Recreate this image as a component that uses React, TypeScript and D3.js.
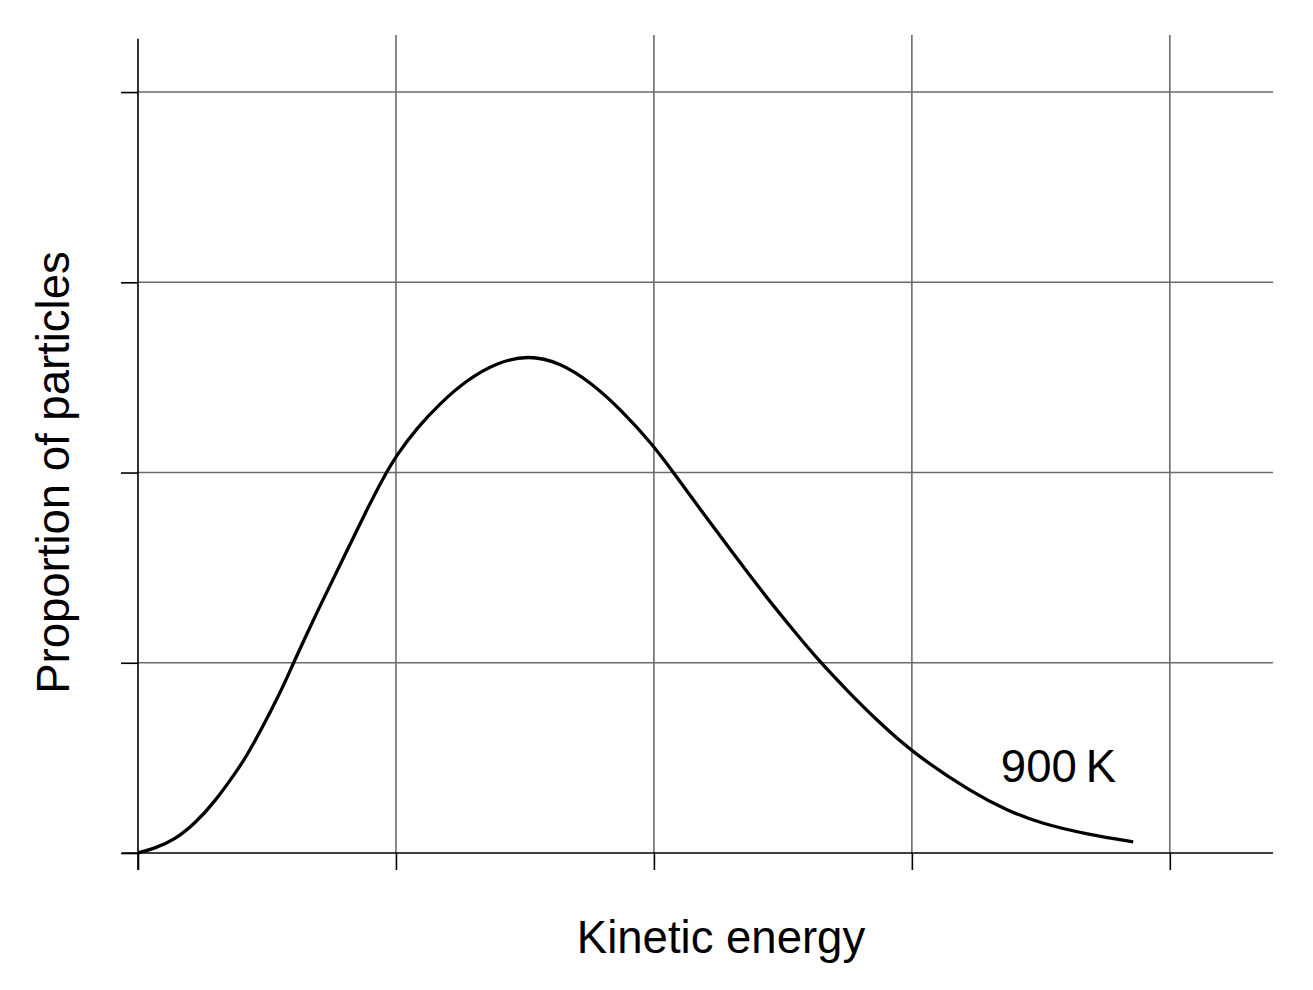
import * as d3 from "d3";
import { useEffect, useRef } from "react";

// kinetic energy (grid units) / proportion of particles (grid units)
const energy = [0, 0.066, 0.143, 0.221, 0.298, 0.376, 0.421, 0.486, 0.538, 0.576, 0.602, 0.66, 0.705, 0.796, 0.886, 0.957, 1.003, 1.08, 1.171, 1.274, 1.39, 1.513, 1.636, 1.752, 1.868, 1.997, 2.081, 2.191, 2.307, 2.424, 2.54, 2.643, 2.747, 2.863, 3.005, 3.238, 3.367, 3.496, 3.69, 3.858];
const proportion = [0, 0.025, 0.07, 0.155, 0.27, 0.417, 0.509, 0.67, 0.808, 0.916, 0.997, 1.167, 1.297, 1.549, 1.803, 1.987, 2.092, 2.232, 2.364, 2.486, 2.578, 2.618, 2.578, 2.477, 2.337, 2.145, 1.99, 1.786, 1.575, 1.365, 1.172, 1.005, 0.857, 0.699, 0.524, 0.314, 0.226, 0.156, 0.095, 0.059];
const xTicks = [0, 1, 2, 3, 4];
const yTicks = [0, 1, 2, 3, 4];
const seriesLabel = "900\u2009K";
const xTitle = "Kinetic energy";
const yTitle = "Proportion of particles";

const W = 1313;
const H = 990;
const FONT = "'Liberation Sans', Arial, sans-serif";
const FONT_SIZE = "45.5px";

const App = () => {
  const chartRef = useRef<SVGSVGElement | null>(null);

  useEffect(() => {
    drawChart();
  }, []);

  const drawChart = () => {
    if (!chartRef.current) return;
    const svg = d3.select(chartRef.current);
    svg.selectAll("*").remove();

    const xScale = d3.scaleLinear().domain([-0.062, 4.4]).range([122, 1273]);
    const yScale = d3.scaleLinear().domain([0, 4.3]).range([853, 35]);
    const tickLen = 17;

    // 격자
    const grid = svg.append("g").attr("stroke", "#6b6b6b").attr("stroke-width", 1.6);
    grid
      .selectAll("line.v")
      .data(xTicks.filter((d) => d !== 0))
      .join("line")
      .attr("x1", (d) => xScale(d))
      .attr("x2", (d) => xScale(d))
      .attr("y1", yScale(4.3))
      .attr("y2", yScale(0));
    grid
      .selectAll("line.h")
      .data(yTicks.filter((d) => d !== 0))
      .join("line")
      .attr("class", "h")
      .attr("x1", xScale(0))
      .attr("x2", xScale(4.4))
      .attr("y1", (d) => yScale(d))
      .attr("y2", (d) => yScale(d));

    // X축
    const xAxis = svg
      .append("g")
      .attr("transform", `translate(0,${yScale(0)})`)
      .call(d3.axisBottom(xScale).tickValues(xTicks).tickSize(tickLen).tickFormat(() => ""));
    xAxis.select(".domain").remove();
    xAxis.selectAll("line").attr("stroke", "#000").attr("stroke-width", 1.6);

    // Y축
    const yAxis = svg
      .append("g")
      .attr("transform", `translate(${xScale(0)},0)`)
      .call(d3.axisLeft(yScale).tickValues(yTicks).tickSize(tickLen).tickFormat(() => ""));
    yAxis.select(".domain").remove();
    yAxis.selectAll("line").attr("stroke", "#000").attr("stroke-width", 1.6);

    svg
      .append("line")
      .attr("x1", xScale(-0.062))
      .attr("x2", xScale(4.4))
      .attr("y1", yScale(0))
      .attr("y2", yScale(0))
      .attr("stroke", "#000")
      .attr("stroke-width", 1.6);
    svg
      .append("line")
      .attr("x1", xScale(0))
      .attr("x2", xScale(0))
      .attr("y1", yScale(4.28))
      .attr("y2", yScale(0) + tickLen)
      .attr("stroke", "#000")
      .attr("stroke-width", 1.6);

    // 곡선 (읽은 값의 잡음을 흡수하도록 B-spline)
    const points = energy.map((e, i) => [e, proportion[i]] as [number, number]);
    const line = d3
      .line<[number, number]>()
      .x((d) => xScale(d[0]))
      .y((d) => yScale(d[1]))
      .curve(d3.curveBasis);
    svg
      .append("path")
      .datum(points)
      .attr("d", line)
      .attr("fill", "none")
      .attr("stroke", "#000")
      .attr("stroke-width", 3.3)
      .attr("stroke-linejoin", "round");

    svg
      .append("text")
      .attr("x", xScale(3.345))
      .attr("y", yScale(0.373))
      .style("font-family", FONT)
      .style("font-size", FONT_SIZE)
      .attr("fill", "#000")
      .text(seriesLabel);

    // 축 제목
    svg
      .append("text")
      .attr("x", 721)
      .attr("y", 953)
      .attr("text-anchor", "middle")
      .style("font-family", FONT)
      .style("font-size", FONT_SIZE)
      .attr("fill", "#000")
      .text(xTitle);

    svg
      .append("text")
      .attr("transform", `translate(69,${yScale(2)}) rotate(-90)`)
      .attr("text-anchor", "middle")
      .style("font-family", FONT)
      .style("font-size", FONT_SIZE)
      .attr("fill", "#000")
      .text(yTitle);
  };

  return (
    <svg
      ref={chartRef}
      width={W}
      height={H}
      style={{ position: "absolute", left: 0, top: 0, background: "#fff" }}
    />
  );
};

export default App;
